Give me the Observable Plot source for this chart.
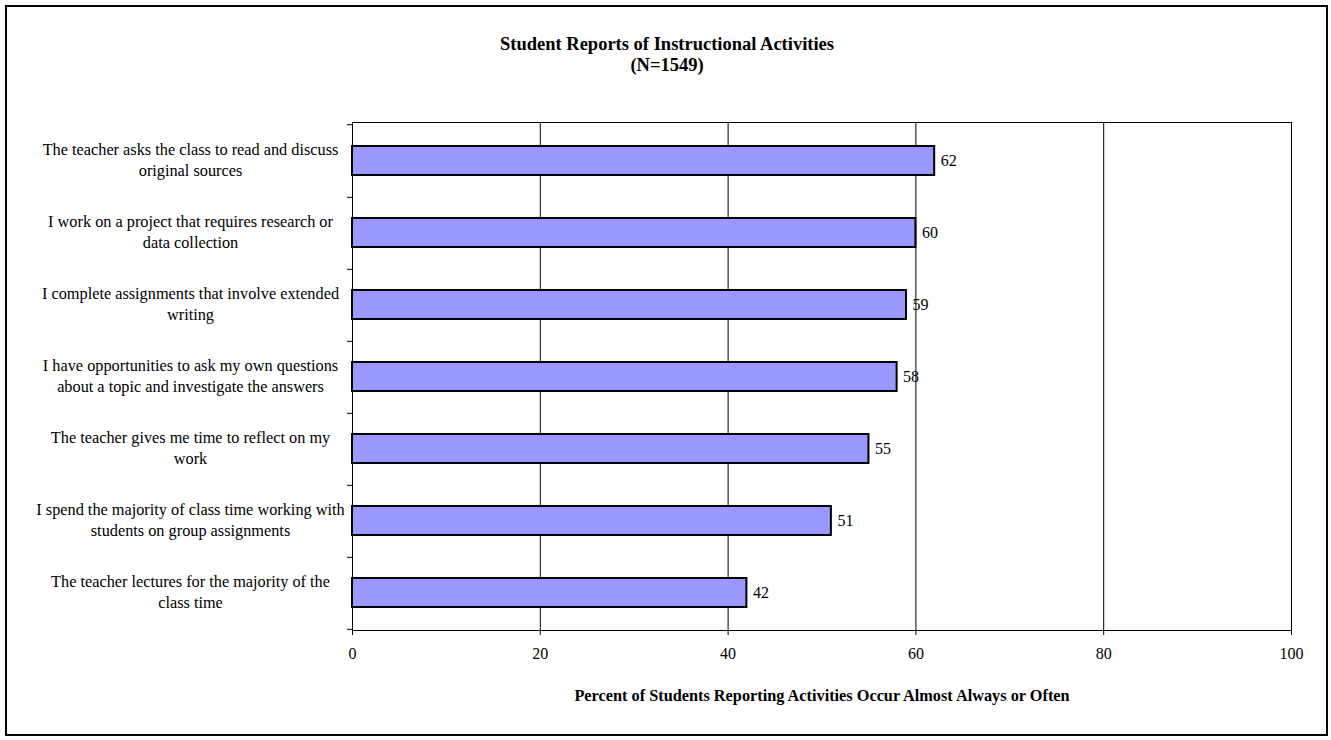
<!DOCTYPE html>
<html>
<head>
<meta charset="utf-8">
<script src="https://cdn.jsdelivr.net/npm/d3@7"></script>
<script src="https://cdn.jsdelivr.net/npm/@observablehq/plot@0.6"></script>
<style>
  html, body { margin: 0; padding: 0; background: #fff; }
  body { width: 1331px; height: 740px; position: relative; overflow: hidden; font-family: "Liberation Serif", "Times New Roman", serif; }
  #border { position: absolute; left: 5px; top: 5px; width: 1323px; height: 731px; border: 2px solid #000; box-sizing: border-box; }
  .title { position: absolute; left: 0; width: 1334px; text-align: center; font-weight: bold; font-size: 18.5px; line-height: 18px; height: 18px; color: #000; }
  #t1 { top: 35px; }
  #t2 { top: 56px; }
  #chart { position: absolute; left: 0; top: 90px; }
</style>
</head>
<body>
<div id="border"></div>
<div class="title" id="t1">Student Reports of Instructional Activities</div>
<div class="title" id="t2">(N=1549)</div>
<div id="chart"></div>
<script>
const categories = [
  "The teacher asks the class to read and discuss original sources",
  "I work on a project that requires research or data collection",
  "I complete assignments that involve extended writing",
  "I have opportunities to ask my own questions about a topic and investigate the answers",
  "The teacher gives me time to reflect on my work",
  "I spend the majority of class time working with students on group assignments",
  "The teacher lectures for the majority of the class time"
];
const tickLabels = [
  "The teacher asks the class to read and discuss\noriginal sources",
  "I work on a project that requires research or\ndata collection",
  "I complete assignments that involve extended\nwriting",
  "I have opportunities to ask my own questions\nabout a topic and investigate the answers",
  "The teacher gives me time to reflect on my\nwork",
  "I spend the majority of class time working with\nstudents on group assignments",
  "The teacher lectures for the majority of the\nclass time"
];
const values = [62, 60, 59, 58, 55, 51, 42];
const xTicks = [0, 20, 40, 60, 80, 100];
const gridTicks = [20, 40, 60, 80];
const xLabel = "Percent of Students Reporting Activities Occur Almost Always or Often";

const data = categories.map((c, i) => ({category: c, value: values[i]}));
const labelOf = new Map(categories.map((c, i) => [c, tickLabels[i]]));

const H = 640, MT = 32, MB = 100;
const step = (H - MT - MB) / categories.length;

const chart = Plot.plot({
  width: 1331,
  height: H,
  marginTop: MT,
  marginBottom: MB,
  marginLeft: 352,
  marginRight: 40,
  style: {fontFamily: "'Liberation Serif', 'Times New Roman', serif", fontSize: "16px", color: "#000", background: "transparent"},
  x: {domain: [0, 100]},
  y: {domain: categories, paddingInner: 0.6, paddingOuter: 0.3, align: 0.5},
  marks: [
    Plot.gridX(gridTicks, {stroke: "#000", strokeOpacity: 1, strokeWidth: 1}),
    Plot.frame({stroke: "#000", strokeWidth: 1}),
    Plot.barX(data, {x: "value", y: "category", fill: "#9999FF", stroke: "#000", strokeWidth: 2}),
    Plot.text(data, {x: "value", y: "category", text: d => String(d.value), textAnchor: "start", dx: 6, fontSize: 16, fill: "#000"}),
    Plot.axisX({ticks: xTicks, tickSize: 5, tickPadding: 12, fontSize: 16, stroke: "#000",
      label: xLabel, labelAnchor: "center", labelOffset: 70, labelArrow: "none"}),
    Plot.axisY({tickSize: 0, tickPadding: 0, textAnchor: "middle", dx: -162, dy: -2, lineHeight: 1.3,
      fontSize: 16.3, tickFormat: d => labelOf.get(d), label: null}),
    Plot.axisY({tickSize: 5, tickFormat: null, dy: step / 2, stroke: "#000", label: null}),
    Plot.axisY({ticks: [categories[0]], tickSize: 5, tickFormat: null, dy: -step / 2, stroke: "#000", label: null})
  ]
});
document.getElementById("chart").appendChild(chart);
chart.querySelectorAll("g[aria-label='x-axis label']").forEach(el => {
  el.setAttribute("font-weight", "bold");
  el.setAttribute("font-size", "16.3");
});
</script>
</body>
</html>
